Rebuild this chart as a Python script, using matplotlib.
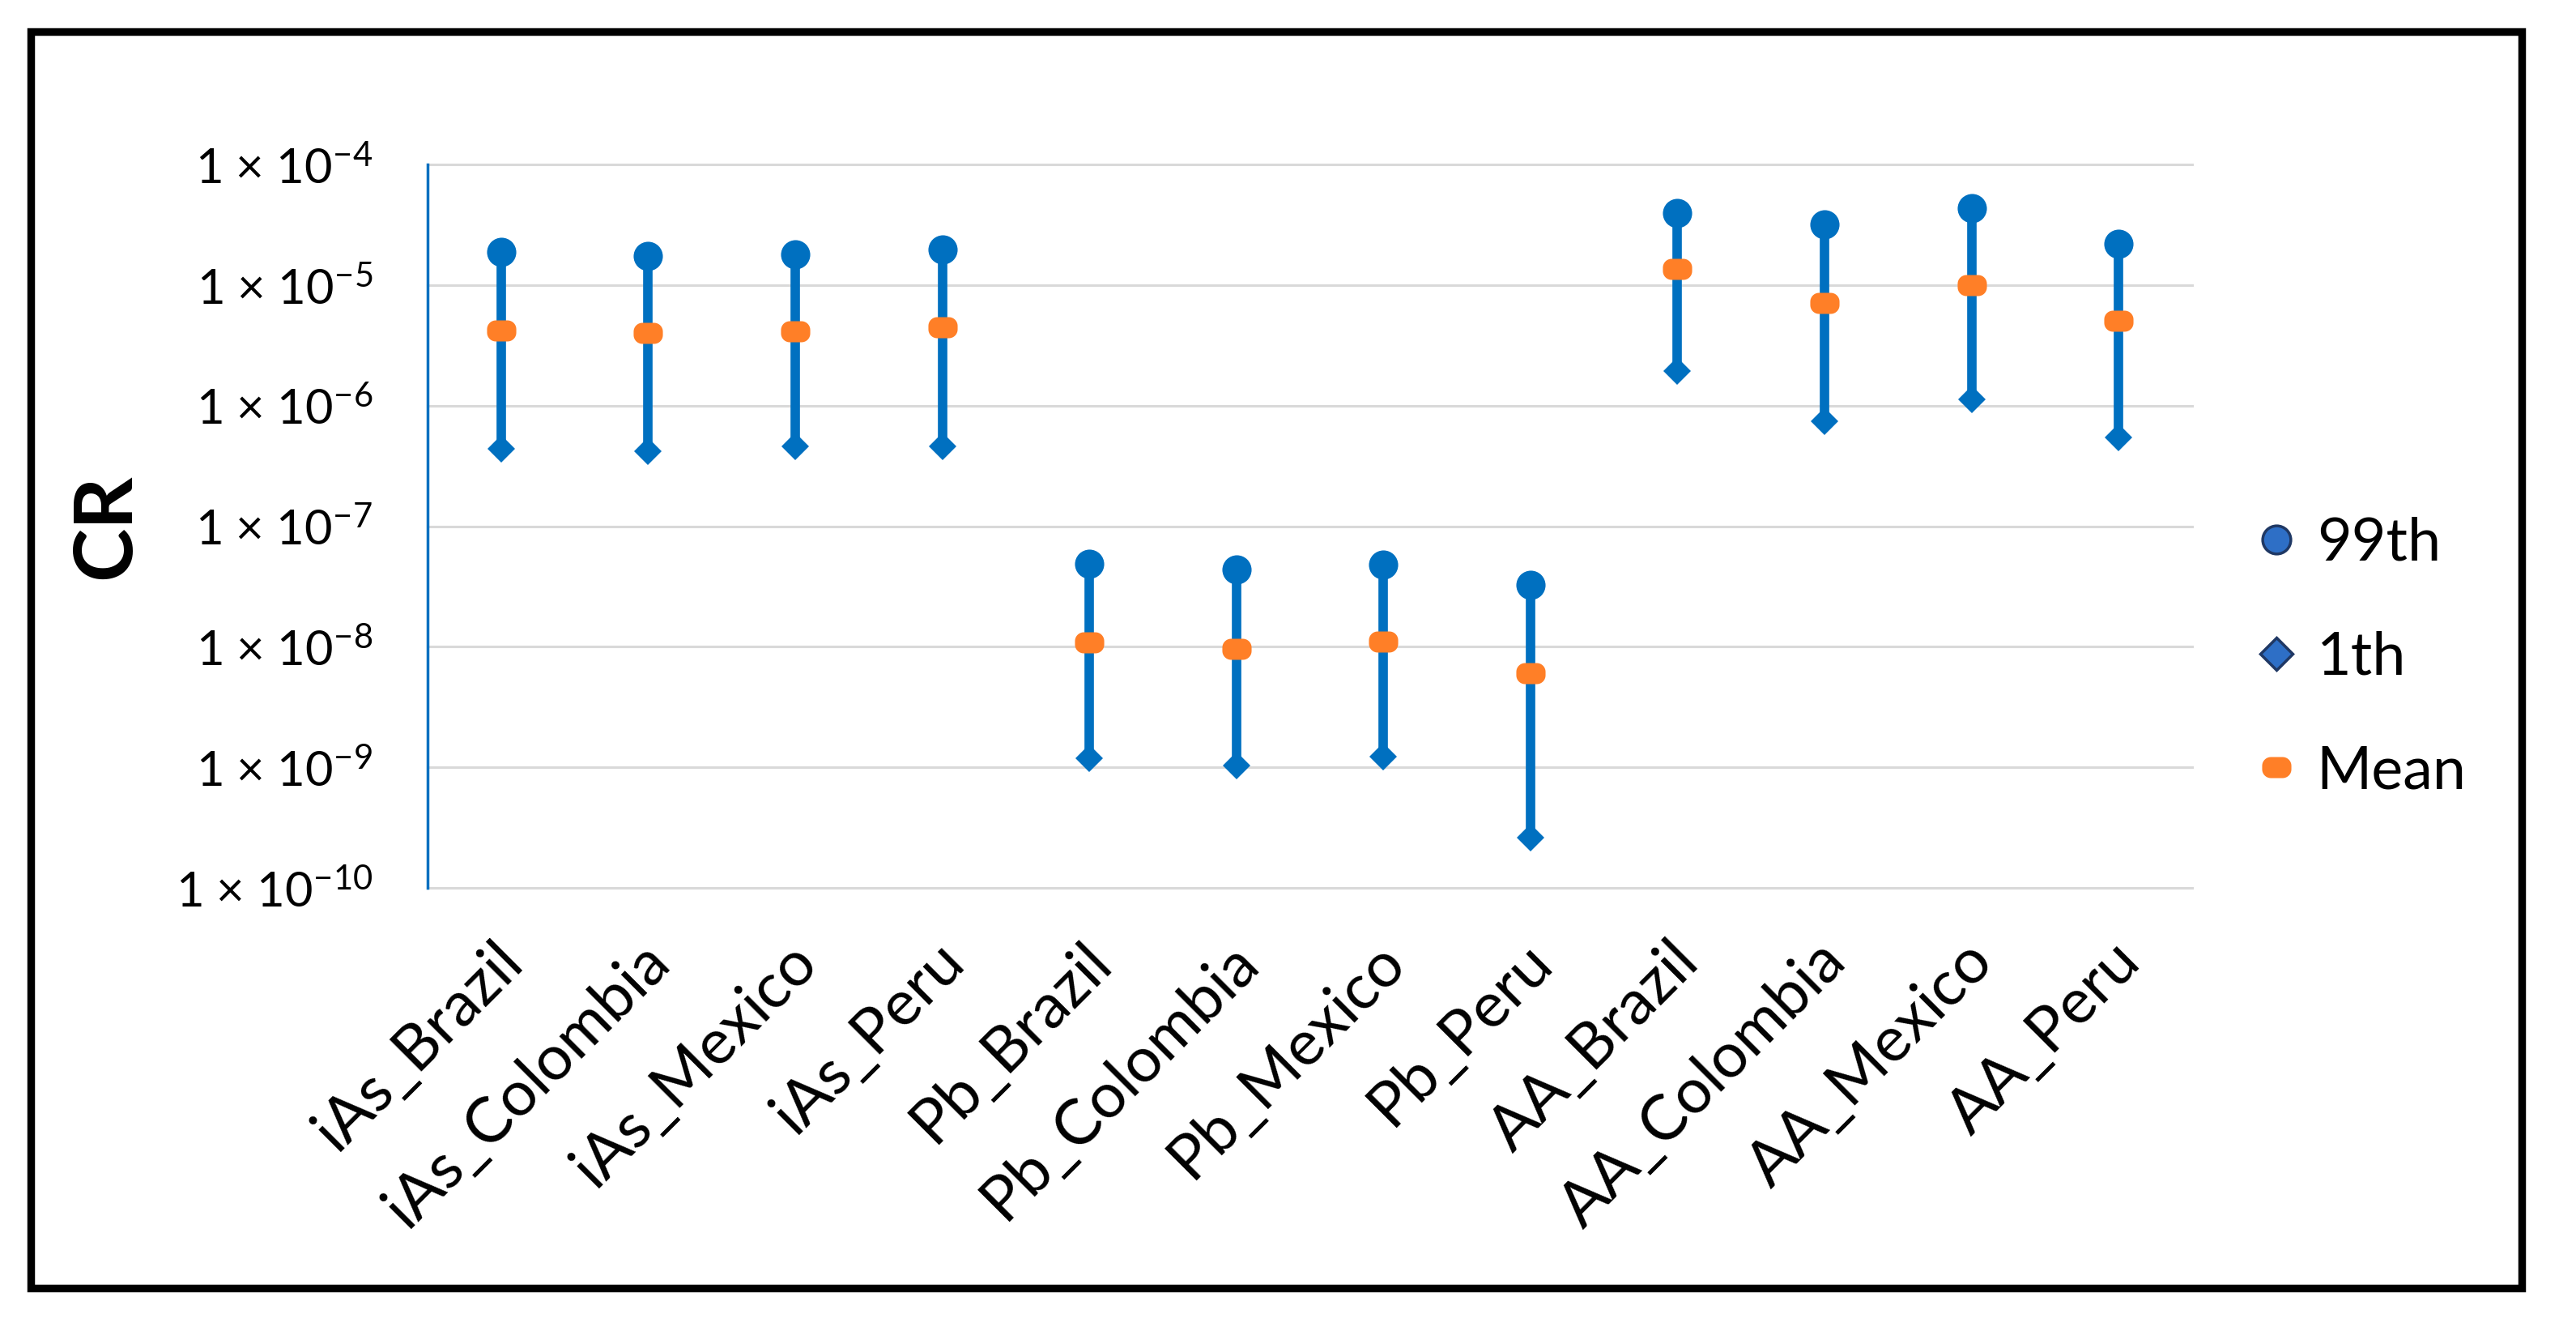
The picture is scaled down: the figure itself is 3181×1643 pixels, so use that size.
import numpy as np
import matplotlib
matplotlib.use("Agg")
import matplotlib.pyplot as plt
from matplotlib.path import Path
from matplotlib.lines import Line2D
from matplotlib.patches import Rectangle
from matplotlib.transforms import ScaledTranslation
from matplotlib.ticker import NullLocator

# ---------------- data ----------------
categories = ["iAs_Brazil", "iAs_Colombia", "iAs_Mexico", "iAs_Peru",
              "Pb_Brazil", "Pb_Colombia", "Pb_Mexico", "Pb_Peru",
              "AA_Brazil", "AA_Colombia", "AA_Mexico", "AA_Peru"]
p99 = [1.87e-5, 1.75e-5, 1.80e-5, 1.97e-5,
       4.86e-8, 4.34e-8, 4.82e-8, 3.27e-8,
       3.95e-5, 3.18e-5, 4.31e-5, 2.20e-5]
mean = [4.19e-6, 3.98e-6, 4.15e-6, 4.48e-6,
        1.09e-8, 9.66e-9, 1.11e-8, 6.07e-9,
        1.35e-5, 7.12e-6, 1.00e-5, 5.07e-6]
p1 = [4.40e-7, 4.20e-7, 4.56e-7, 4.60e-7,
      1.18e-9, 1.04e-9, 1.22e-9, 2.60e-10,
      1.93e-6, 7.45e-7, 1.13e-6, 5.46e-7]
ytick_exponents = [-4, -5, -6, -7, -8, -9, -10]
legend_labels = ["99th", "1th", "Mean"]
ylabel = "CR"

# ---------------- style ----------------
plt.rcParams['font.family'] = ['Lato', 'DejaVu Sans']
plt.rcParams['mathtext.fontset'] = 'custom'
plt.rcParams['mathtext.rm'] = 'Lato'
plt.rcParams['mathtext.it'] = 'Lato:italic'
plt.rcParams['mathtext.bf'] = 'Lato:bold'

BLUE = '#0070C0'
ORANGE = '#FF7F27'
LEG_BLUE = '#2E6FC6'
NAVY = '#1F3864'

W, H = 3181, 1643


def rounded_rect(w=1.0, h=0.72, r=0.3, n=12):
    pts = []
    corners = [(w / 2 - r, h / 2 - r, 0), (-w / 2 + r, h / 2 - r, 90),
               (-w / 2 + r, -h / 2 + r, 180), (w / 2 - r, -h / 2 + r, 270)]
    for cx, cy, a0 in corners:
        t = np.deg2rad(np.linspace(a0, a0 + 90, n))
        pts.extend(zip(cx + r * np.cos(t), cy + r * np.sin(t)))
    pts.append(pts[0])
    codes = [Path.MOVETO] + [Path.LINETO] * (len(pts) - 2) + [Path.CLOSEPOLY]
    return Path(pts, codes)


MEAN_MARKER = rounded_rect()

fig = plt.figure(figsize=(W / 100, H / 100), dpi=100)
left, right, top, bottom = 528, 2707, 203, 1096
ax = fig.add_axes([left / W, 1 - bottom / H, (right - left) / W, (bottom - top) / H])

x = np.arange(len(categories))
ax.vlines(x, p1, p99, color=BLUE, lw=8.4, zorder=3)
ax.plot(x, p99, ls='none', marker='o', ms=26, mfc=BLUE, mew=0, zorder=4)
ax.plot(x, p1, ls='none', marker='D', ms=17.5, mfc=BLUE, mew=0, zorder=4)
ax.plot(x, mean, ls='none', marker=MEAN_MARKER, ms=26, mfc=ORANGE, mew=0, zorder=5)

ax.set_yscale('log')
ax.set_ylim(10.0 ** min(ytick_exponents), 10.0 ** max(ytick_exponents))
ax.set_xlim(-0.5, len(categories) - 0.5)
ax.set_yticks([10.0 ** e for e in ytick_exponents],
              labels=[f"1 \u00d7 10$^{{{e}}}$" for e in ytick_exponents])
ax.yaxis.set_minor_locator(NullLocator())
ax.tick_params(axis='y', length=0, pad=49, labelsize=43)

ax.set_xticks(x, labels=categories)
ax.tick_params(axis='x', length=0, pad=39, labelsize=56)
for lbl in ax.get_xticklabels():
    lbl.set_rotation(45)
    lbl.set_ha('right')
    lbl.set_va('top')
    lbl.set_rotation_mode('anchor')
    lbl.set_transform(lbl.get_transform() + ScaledTranslation(-0.10, 0, fig.dpi_scale_trans))

ax.grid(axis='y', color='#D9D9D9', lw=2.2)
ax.set_axisbelow(True)
for gl in ax.get_ygridlines():
    gl.set_clip_on(False)
for s in ['top', 'right', 'bottom']:
    ax.spines[s].set_visible(False)
ax.spines['left'].set_color(BLUE)
ax.spines['left'].set_linewidth(2.5)

ax.set_ylabel(ylabel, fontsize=72, fontweight='bold')
ax.yaxis.set_label_coords((132 - left) / (right - left), 0.5)
ax.yaxis.label.set_va('center')

handles = [
    Line2D([], [], ls='none', marker='o', ms=25, mfc=LEG_BLUE, mec=NAVY, mew=2.5),
    Line2D([], [], ls='none', marker='D', ms=20, mfc=LEG_BLUE, mec=NAVY, mew=2.5),
    Line2D([], [], ls='none', marker=MEAN_MARKER, ms=26, mfc=ORANGE, mew=0),
]
fig.legend(handles, legend_labels, loc='center left',
           bbox_to_anchor=(2776 / W, 1 - 812 / H), frameon=False, fontsize=53,
           handlelength=0.95, handletextpad=0.2, labelspacing=1.0,
           borderaxespad=0, borderpad=0)

fig.patches.append(Rectangle((38 / W, 1 - 1590 / H), (3114 - 38) / W, (1590 - 39) / H,
                             transform=fig.transFigure, fill=False, ec='black',
                             lw=6.8, joinstyle='miter'))

fig.savefig("out.png", dpi=100)
